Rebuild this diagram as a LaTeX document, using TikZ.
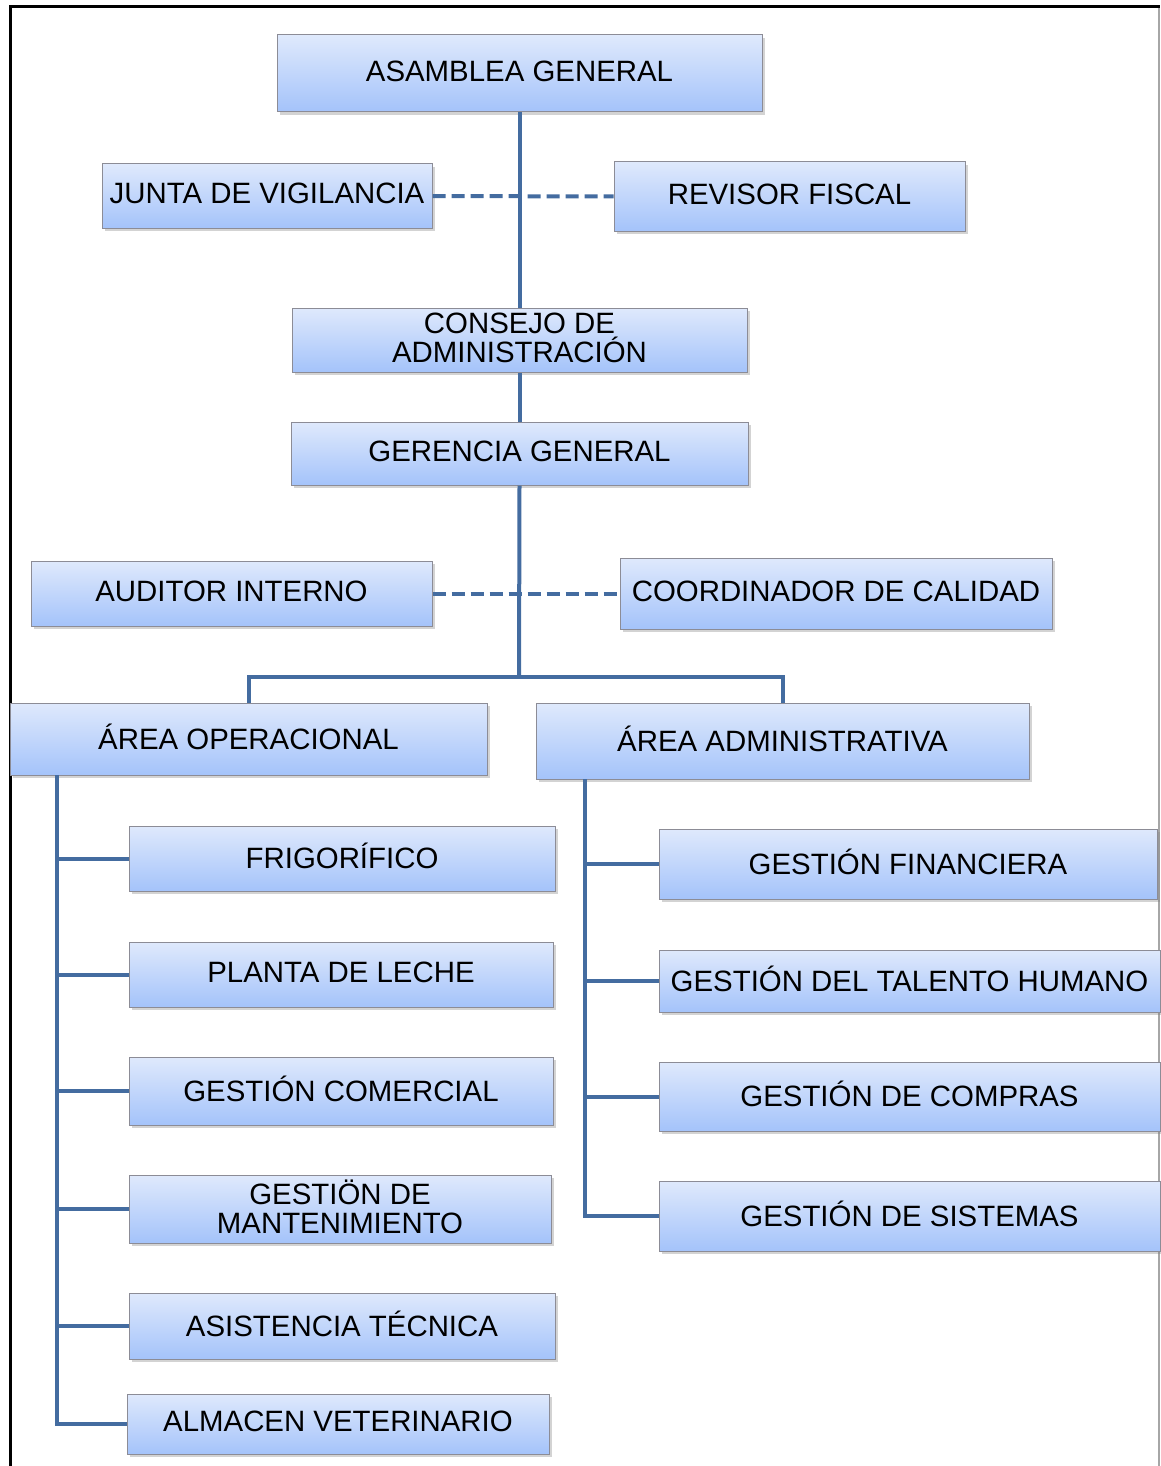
\documentclass[tikz,border=0pt]{standalone}
\usepackage{fontspec}
\setmainfont{Liberation Sans}
\usetikzlibrary{shadows}

\definecolor{linkblue}{RGB}{68,108,160}
\definecolor{boxtop}{RGB}{223,233,252}
\definecolor{boxbottom}{RGB}{164,195,250}
\definecolor{boxedge}{RGB}{140,140,150}

\tikzset{
  unitbox/.style={draw=boxedge, line width=1pt, top color=boxtop, bottom color=boxbottom,
    drop shadow={shadow xshift=2.5pt, shadow yshift=-3pt, opacity=0.35},
    inner sep=0pt},
  unittext/.style={inner sep=0pt, align=center, font=\fontsize{29.4}{31}\selectfont},
  solidlink/.style={draw=linkblue, line width=4pt},
  dashlink/.style={draw=linkblue, line width=4pt, dash pattern=on 13pt off 6pt},
  frameline/.style={line width=3pt, black}
}

% box from its corners (x1,y1) -- (x2,y2), y counted downward; text set slightly above centre
\newcommand\placebox[6]{%
  \pgfmathsetmacro\bw{#4-#2}\pgfmathsetmacro\bh{#5-#3}%
  \pgfmathsetmacro\bx{(#2+#4)/2}\pgfmathsetmacro\by{(#3+#5)/2}%
  \node[unitbox, minimum width=\bw pt, minimum height=\bh pt] (#1) at (\bx,\by) {};
  \node[unittext] (#1-text) at ([yshift=2.5pt]#1.center) {#6};}

\begin{document}
\begin{tikzpicture}[x=1pt, y=-1pt]
\useasboundingbox (0,0) rectangle (1160,1466);

% page frame
\draw[frameline] (10,1466) -- (10,7) -- (1160,7);
\draw[line width=1.5pt, black!35] (1159,8) -- (1159,1466);

% boxes
\placebox{asam}{277}{35}{762}{112}{ASAMBLEA GENERAL}
\placebox{junta}{102}{164}{432}{228}{JUNTA DE VIGILANCIA}
\placebox{revisor}{614}{162}{965}{231}{REVISOR FISCAL}
\placebox{consejo}{292}{308}{747}{372}{CONSEJO DE\\[-2pt]ADMINISTRACIÓN}
\placebox{gerencia}{291}{422}{748}{485}{GERENCIA GENERAL}
\placebox{auditor}{31}{561}{432}{626}{AUDITOR INTERNO}
\placebox{coord}{620}{558}{1052}{629}{COORDINADOR DE CALIDAD}
\placebox{opera}{10}{703}{487}{775}{ÁREA OPERACIONAL}
\placebox{admin}{536}{703}{1029}{779}{ÁREA ADMINISTRATIVA}

\placebox{frigo}{129}{826}{555}{891}{FRIGORÍFICO}
\placebox{planta}{129}{942}{553}{1007}{PLANTA DE LECHE}
\placebox{comercial}{129}{1057}{553}{1125}{GESTIÓN COMERCIAL}
\placebox{mant}{129}{1175}{551}{1243}{GESTIÖN DE\\[-2pt]MANTENIMIENTO}
\placebox{asist}{129}{1293}{555}{1359}{ASISTENCIA TÉCNICA}
\placebox{almacen}{127}{1394}{549}{1454}{ALMACEN VETERINARIO}

\placebox{finan}{659}{829}{1157}{899}{GESTIÓN FINANCIERA}
\placebox{talento}{659}{950}{1160}{1012}{GESTIÓN DEL TALENTO HUMANO}
\placebox{compras}{659}{1062}{1160}{1131}{GESTIÓN DE COMPRAS}
\placebox{sistemas}{659}{1181}{1160}{1251}{GESTIÓN DE SISTEMAS}

% connectors
\coordinate (split) at (519,677);
\coordinate (busL) at (57,775);
\coordinate (busR) at (585,779);

\draw[dashlink] (junta.east) -- (revisor.west);
\draw[dashlink] (auditor.east) -- (coord.west);
\draw[solidlink] (asam.south) -- (consejo.north);
\draw[solidlink] (consejo.south) -- (gerencia.north);
\draw[solidlink] (gerencia.south) -- (split);
\draw[solidlink] (opera.north) |- (split) -| (admin.north);

\draw[solidlink] (busL) |- (almacen.west);
\foreach \n in {frigo,planta,comercial,mant,asist}
  \draw[solidlink] (busL |- \n.west) -- (\n.west);

\draw[solidlink] (busR) |- (sistemas.west);
\foreach \n in {finan,talento,compras}
  \draw[solidlink] (busR |- \n.west) -- (\n.west);
\end{tikzpicture}
\end{document}
